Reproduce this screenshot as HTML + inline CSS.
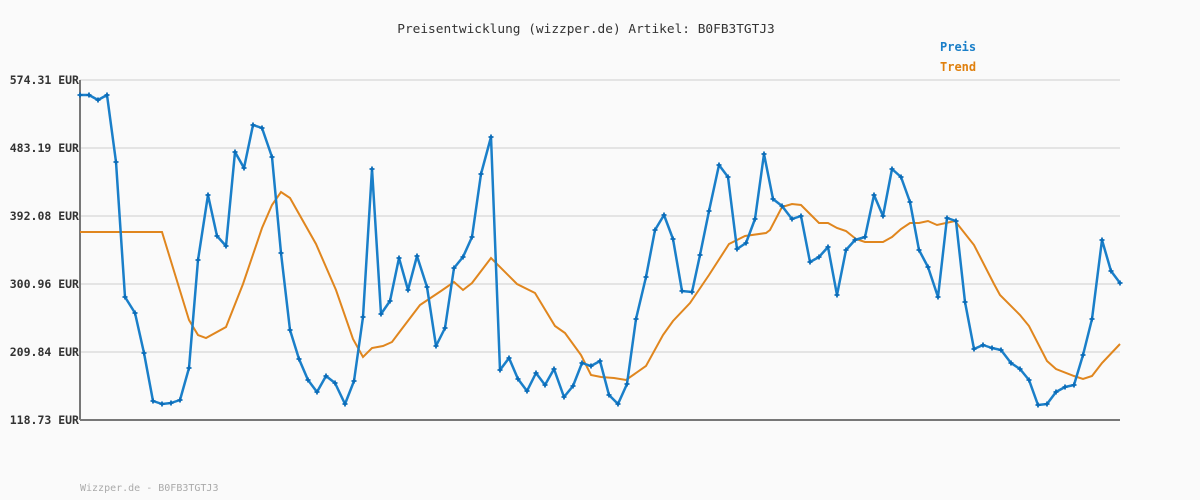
<!DOCTYPE html>
<html><head><meta charset="utf-8"><style>
html,body{margin:0;padding:0;background:#fafafa;}
svg{display:block;}
</style></head><body>
<svg width="1200" height="500" xmlns="http://www.w3.org/2000/svg" font-family="'DejaVu Sans Mono','Liberation Mono',monospace">
<rect width="1200" height="500" fill="#fafafa"/>
<g stroke="#e4e4e4" stroke-width="2">
<line x1="80" y1="80" x2="1120" y2="80"/><line x1="80" y1="148" x2="1120" y2="148"/>
<line x1="80" y1="216" x2="1120" y2="216"/><line x1="80" y1="284" x2="1120" y2="284"/>
<line x1="80" y1="352" x2="1120" y2="352"/>
</g>
<g stroke="#777" stroke-width="2"><line x1="80" y1="80" x2="80" y2="420"/><line x1="80" y1="420" x2="1120" y2="420"/></g>
<g font-size="11.5" font-weight="bold" fill="#333" text-anchor="end">
<text x="79" y="84">574.31 EUR</text><text x="79" y="152">483.19 EUR</text>
<text x="79" y="220">392.08 EUR</text><text x="79" y="288">300.96 EUR</text>
<text x="79" y="356">209.84 EUR</text><text x="79" y="424">118.73 EUR</text>
</g>
<text x="586" y="33" font-size="12.8" fill="#333" text-anchor="middle">Preisentwicklung (wizzper.de) Artikel: B0FB3TGTJ3</text>
<text x="940" y="51" font-size="12" font-weight="bold" fill="#1a7fc9">Preis</text>
<text x="940" y="71" font-size="12" font-weight="bold" fill="#e0800e">Trend</text>
<text x="80" y="491" font-size="10" fill="#aaa">Wizzper.de - B0FB3TGTJ3</text>
<polyline fill="none" stroke="#e0861e" stroke-width="2" points="80,232 162,232 189,320 198,335 206,338 226,327 243,284 262,228 272,205 281,192 290,198 316,244 336,290 353,339 363,357 372,348 383,346 392,342 401,330 420,305 441,291 454,282 463,290 472,283 491,258 517,284 535,293 555,326 565,333 581,355 591,375 601,377 614,378 626,380 646,366 663,335 673,321 690,303 709,275 729,244 745,236 766,233 770,230 782,207 792,204 801,205 810,214 819,223 828,223 837,228 846,231 856,239 865,242 883,242 892,237 901,229 910,223 919,223 928,221 937,225 955,221 974,245 994,284 1000,295 1020,315 1029,326 1047,361 1056,369 1074,376 1083,379 1092,376 1102,363 1120,344"/>
<polyline id="p" fill="none" stroke="#1a7fc9" stroke-width="2.5" stroke-linejoin="round" points="80,95 89,95 98,100 107,95 116,162 125,297 135,313 144,353 153,401 162,404 171,403 180,400 189,368 198,260 208,195 217,236 226,246 235,152 244,168 253,125 262,128 272,157 281,253 290,330 299,359 308,380 317,392 326,376 335,383 345,404 354,381 363,317 372,169 381,314 390,301 399,258 408,290 417,256 427,287 436,346 445,328 454,268 463,257 472,237 481,174 491,137 500,370 509,358 518,379 527,391 536,373 545,385 554,369 564,397 573,386 582,363 591,366 600,361 609,395 618,404 627,384 636,319 646,277 655,230 664,215 673,239 682,291 692,292 700,255 709,211 719,165 728,177 737,249 746,243 755,219 764,154 773,199 782,206 792,219 801,216 810,262 819,257 828,247 837,295 846,250 855,240 865,237 874,195 883,216 892,169 901,177 910,202 919,250 928,267 938,297 947,218 956,221 965,302 974,349 983,345 992,348 1001,350 1011,363 1020,369 1029,380 1038,405 1047,404 1056,392 1065,387 1074,385 1083,355 1092,319 1102,240 1111,271 1120,283"/>
</svg>
<script>
(function(){var p=document.getElementById('p');var pts=p.getAttribute('points').trim().split(/\s+/);var s=p.ownerSVGElement;var ns='http://www.w3.org/2000/svg';pts.forEach(function(q){var c=q.split(',');var e=document.createElementNS(ns,'path');var x=+c[0],y=+c[1];e.setAttribute('d','M'+(x-2.5)+' '+y+'H'+(x+2.5)+'M'+x+' '+(y-2.5)+'V'+(y+2.5));e.setAttribute('stroke','#0b6cb8');e.setAttribute('stroke-width','1.8');s.appendChild(e);});})();
</script>
</body></html>
